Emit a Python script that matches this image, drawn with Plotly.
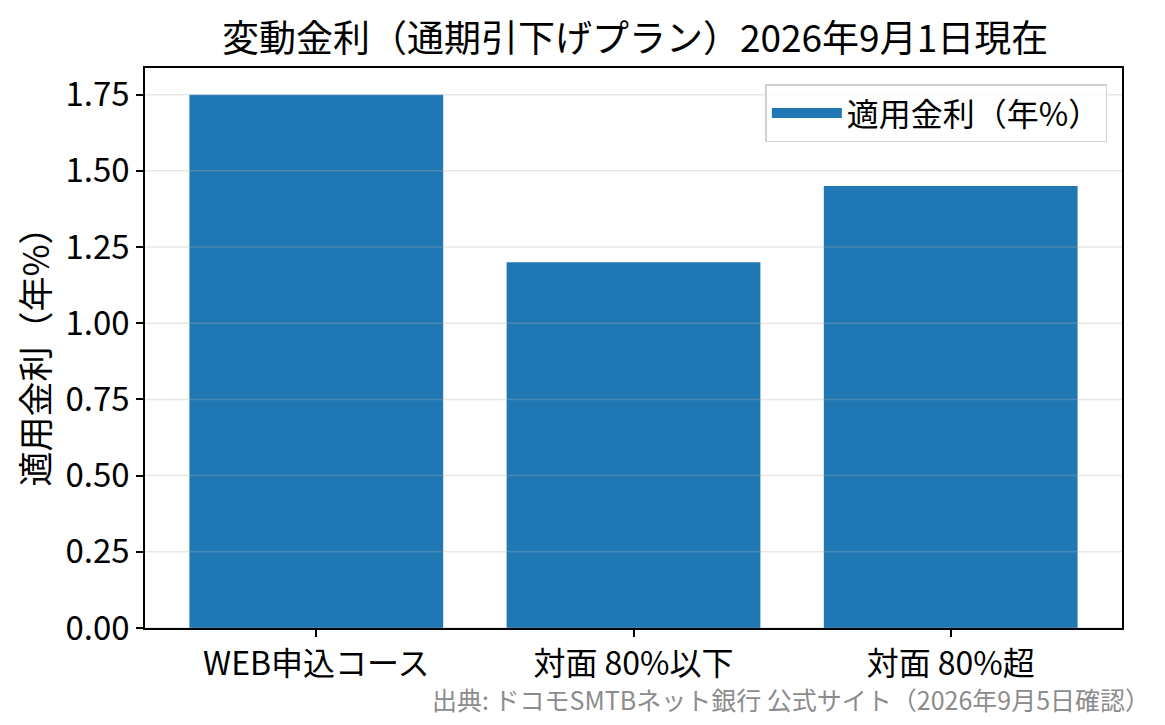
import plotly.graph_objects as go

# Data
categories = ["WEB申込コース", "対面 80%以下", "対面 80%超"]
rates = [1.75, 1.20, 1.45]
y_ticks = [0.0, 0.25, 0.5, 0.75, 1.0, 1.25, 1.5, 1.75]
series_name = "適用金利（年%）"

font_family = "Noto Sans CJK JP"
bar_color = "#1f77b4"

fig = go.Figure()
fig.add_trace(go.Bar(
    x=list(range(len(categories))),
    y=rates,
    width=0.8,
    marker=dict(color=bar_color, line=dict(width=0)),
    name=series_name,
    showlegend=False,
))
# legend entry drawn as a wide patch, like matplotlib's
fig.add_trace(go.Scatter(
    x=[None], y=[None], mode="lines",
    line=dict(color=bar_color, width=22),
    name=series_name, showlegend=True,
))

# gridlines drawn over the bars (semi transparent), like the original
for t in y_ticks:
    fig.add_shape(type="line", xref="paper", yref="y", x0=0, x1=1, y0=t, y1=t,
                  line=dict(color="rgba(176,176,176,0.3)", width=1.5), layer="above")

fig.update_layout(
    width=1157,
    height=717,
    margin=dict(l=137, r=43, t=60, b=97),
    paper_bgcolor="white",
    plot_bgcolor="white",
    font=dict(family=font_family, size=33, color="black"),
    title=dict(text="変動金利（通期引下げプラン）2026年9月1日現在",
               x=0.542, xanchor="center", y=0.957, yanchor="middle",
               font=dict(size=37, color="black")),
    legend=dict(x=0.985, y=0.971, xanchor="right", yanchor="top",
                bgcolor="rgba(255,255,255,0.8)", bordercolor="#d0d0d0", borderwidth=1.5,
                font=dict(size=32), itemwidth=70),
)

fig.update_xaxes(
    range=[-0.54, 2.54],
    tickmode="array",
    tickvals=list(range(len(categories))),
    ticktext=categories,
    ticks="outside", ticklen=7, tickwidth=1.5, tickcolor="black",
    showline=True, linecolor="black", linewidth=1.5, mirror=True,
    showgrid=False, zeroline=False,
    tickfont=dict(size=32),
)
fig.update_yaxes(
    range=[0, 1.8375],
    tickmode="array",
    tickvals=y_ticks,
    ticktext=[f"{v:.2f}" for v in y_ticks],
    ticks="outside", ticklen=7, tickwidth=1.5, tickcolor="black",
    showline=True, linecolor="black", linewidth=1.5, mirror=True,
    showgrid=False, zeroline=False,
    tickfont=dict(size=33),
    title=dict(text=series_name, font=dict(size=35), standoff=12),
)

fig.add_annotation(
    text="出典: ドコモSMTBネット銀行 公式サイト（2026年9月5日確認）",
    xref="paper", yref="paper", x=1.031, y=-0.127, xanchor="right", yanchor="middle",
    showarrow=False, font=dict(size=25, color="#8c8c8c"),
)

fig.write_html("out.html")
